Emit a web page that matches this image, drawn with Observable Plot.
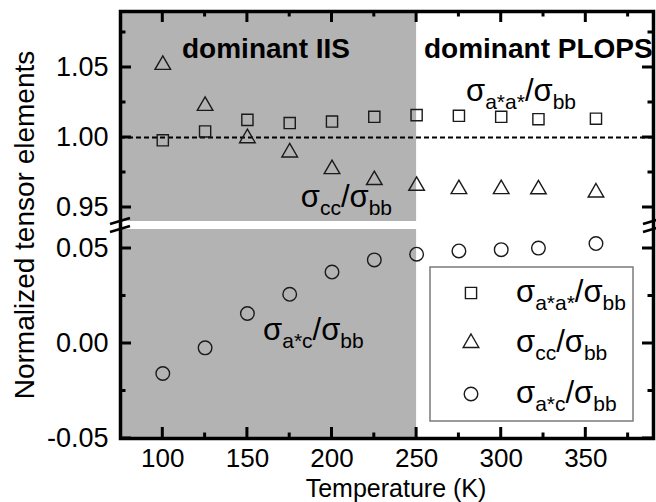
<!DOCTYPE html>
<html><head><meta charset="utf-8">
<script src="https://cdn.jsdelivr.net/npm/d3@7"></script>
<script src="https://cdn.jsdelivr.net/npm/@observablehq/plot@0.6"></script>
<style>
html,body{margin:0;padding:0;background:#fff;}
#chart svg{display:block;}
</style></head><body><div id="chart"></div>
<script>
// ---- data ----
const temperature = [100, 125, 150, 175, 200, 225, 250, 275, 300, 322, 356];
const sigmaAA = [0.998, 1.0043, 1.0126, 1.0103, 1.0114, 1.0148, 1.016, 1.0155, 1.0148, 1.0131, 1.0134]; // σa*a*/σbb
const sigmaCC = [1.0519, 1.0226, 0.9995, 0.9893, 0.9774, 0.9696, 0.9655, 0.9631, 0.9631, 0.963, 0.9607]; // σcc/σbb
const sigmaAC = [-0.0158, -0.0023, 0.0158, 0.0259, 0.0376, 0.044, 0.047, 0.0487, 0.0494, 0.0502, 0.0526]; // σa*c/σbb
const xTicks = [100, 150, 200, 250, 300, 350];
const xMinorTicks = [125, 175, 225, 275, 325, 375];
const yTicks = [-0.05, 0.00, 0.05, 0.95, 1.00, 1.05];
const yMinorTicks = [-0.025, 0.025, 0.975, 1.025, 1.075];
const xDomain = [75, 390];
const lowerPanel = [-0.05, 0.06];
const upperPanel = [0.94, 1.09];
const iisRange = [75, 250]; // temperatures where IIS dominates
const regionNames = ["dominant IIS", "dominant PLOPS"];
const seriesNames = [
  [["σ", 0], ["a*a*", 1], ["/σ", 0], ["bb", 1]],
  [["σ", 0], ["cc", 1], ["/σ", 0], ["bb", 1]],
  [["σ", 0], ["a*c", 1], ["/σ", 0], ["bb", 1]]
];
const xTitle = "Temperature (K)";
const yTitle = "Normalized tensor elements";

// ---- styling ----
const FONT = "'Liberation Sans', Arial, sans-serif";
const SHADE = "#b3b3b3";
const INK = "#1a1a1a";
const symbols = ["square", "triangle", "circle"];
const symbolR = [6.3, 5.8, 6.8];

const table = (vals) => temperature.map((t, i) => ({t, v: vals[i]}));

function addSigma(textSel, parts, subSize, shift) {
  let down = false;
  for (const [str, sub] of parts) {
    const ts = textSel.append("tspan").text(str);
    if (sub) { ts.attr("font-size", subSize); if (!down) { ts.attr("dy", shift); down = true; } }
    else if (down) { ts.attr("dy", -shift); down = false; }
  }
}

// inward ticks and axis-break marks, positioned with Plot's scales
function frameDecor(index, {x, y}, values, dim) {
  const L = dim.marginLeft, R = dim.width - dim.marginRight;
  const T = dim.marginTop, B = dim.height - dim.marginBottom;
  const g = d3.create("svg:g").attr("stroke", "black").attr("fill", "none");
  const seg = (x1, y1, x2, y2, w) => g.append("line").attr("x1", x1).attr("y1", y1).attr("x2", x2).attr("y2", y2).attr("stroke-width", w);
  const MAJ = 11, MIN = 5.5;
  for (const v of yTicks) { const p = y(v); seg(L, p, L + MAJ, p, 3); seg(R, p, R - MAJ, p, 3); }
  for (const v of yMinorTicks) { const p = y(v); seg(L, p, L + MIN, p, 3); seg(R, p, R - MIN, p, 3); }
  for (const v of xTicks) { const p = x(v); seg(p, B, p, B - MAJ, 3); seg(p, T, p, T + MAJ, 3); }
  for (const v of xMinorTicks) { const p = x(v); seg(p, B, p, B - MIN, 3); seg(p, T, p, T + MIN, 3); }
  for (const edge of [L, R]) {
    for (const v of [upperPanel[0], lowerPanel[1]]) {
      const p = y(v);
      seg(edge - 10, p + 3, edge + 10, p - 3, 2.5);
    }
  }
  return g.node();
}

// series labels and legend
function annotations(index, {x, y}, values, dim) {
  const g = d3.create("svg:g").attr("font-family", FONT).attr("fill", "black");
  const labelPos = [[312, 1.0257], [208.8, 0.95], [189.3, 0.0016]];
  seriesNames.forEach((parts, i) => {
    const t = g.append("text").attr("x", x(labelPos[i][0])).attr("y", y(labelPos[i][1]))
      .attr("text-anchor", "middle").attr("font-size", 31);
    addSigma(t, parts, 21, 8);
  });
  // legend
  const R = dim.width - dim.marginRight;
  const bw = 203, bh = 154;
  const bx = R - 20 - bw, by = y(lowerPanel[1]) + 38;
  g.append("rect").attr("x", bx).attr("y", by).attr("width", bw).attr("height", bh)
    .attr("fill", "white").attr("stroke", "#7a7a7a").attr("stroke-width", 1.5);
  const rows = [26, 76, 127];
  seriesNames.forEach((parts, i) => {
    const cy = by + rows[i];
    const type = {square: d3.symbolSquare, triangle: d3.symbolTriangle, circle: d3.symbolCircle}[symbols[i]];
    g.append("path").attr("d", d3.symbol(type, Math.PI * symbolR[i] * symbolR[i])())
      .attr("transform", `translate(${bx + 41},${cy})`)
      .attr("fill", "none").attr("stroke", INK).attr("stroke-width", 1.4);
    const t = g.append("text").attr("x", bx + 86).attr("y", cy + 9)
      .attr("text-anchor", "start").attr("font-size", 31);
    addSigma(t, parts, 21, 8);
  });
  return g.node();
}

const chart = Plot.plot({
  width: 656,
  height: 502,
  marginLeft: 120,
  marginRight: 3,
  marginTop: 11,
  marginBottom: 64,
  style: {fontFamily: FONT, background: "white", color: "black"},
  x: {domain: xDomain},
  y: {type: "linear", domain: [lowerPanel[0], lowerPanel[1], upperPanel[0], upperPanel[1]], range: [438, 229, 221, 11]},
  marks: [
    Plot.rect([lowerPanel, upperPanel], {x1: () => iisRange[0], x2: () => iisRange[1], y1: d => d[0], y2: d => d[1], fill: SHADE}),
    Plot.ruleY([1], {stroke: "black", strokeWidth: 2, strokeDasharray: "5,3"}),
    Plot.dot(table(sigmaAA), {x: "t", y: "v", symbol: symbols[0], r: symbolR[0], stroke: INK, strokeWidth: 1.4, fill: "none"}),
    Plot.dot(table(sigmaCC), {x: "t", y: "v", symbol: symbols[1], r: symbolR[1], stroke: INK, strokeWidth: 1.4, fill: "none"}),
    Plot.dot(table(sigmaAC), {x: "t", y: "v", symbol: symbols[2], r: symbolR[2], stroke: INK, strokeWidth: 1.4, fill: "none"}),
    Plot.text([regionNames[0]], {text: d => d, x: () => 161, y: () => 1.063, fontWeight: "bold", fontSize: 28}),
    Plot.text([regionNames[1]], {text: d => d, x: () => 389.5, y: () => 1.063, textAnchor: "end", fontWeight: "bold", fontSize: 28}),
    annotations,
    Plot.frame({stroke: "black", strokeWidth: 3.5}),
    frameDecor,
    Plot.axisY(yTicks, {anchor: "left", tickSize: 0, tickPadding: 12, tickFormat: d => d.toFixed(2), fontSize: 27, label: null}),
    Plot.axisX(xTicks, {anchor: "bottom", tickSize: 0, tickPadding: 10.5, fontSize: 26, label: null}),
    Plot.text([xTitle], {text: d => d, frameAnchor: "bottom", lineAnchor: "middle", textAnchor: "middle", dx: 9, dy: 50, fontSize: 25}),
    Plot.text([yTitle], {text: d => d, frameAnchor: "left", lineAnchor: "middle", textAnchor: "middle", rotate: -90, dx: -95, fontSize: 28})
  ]
});
document.getElementById("chart").appendChild(chart);
</script>
</body></html>
